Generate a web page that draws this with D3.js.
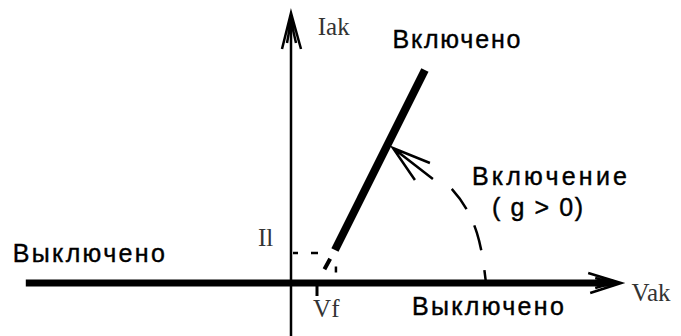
<!DOCTYPE html>
<meta charset="utf-8">
<script src="https://d3js.org/d3.v7.min.js"></script>
<div id="vis"></div>
<style>
    body { margin: 0; background: #fff; }
    .lbl { font-family: "Liberation Sans", Arial, sans-serif; fill: #000; stroke: #000; stroke-width: 0.4px; }
    .sym { font-family: "Liberation Serif", "Times New Roman", serif; fill: #333; }
</style>
<script>
    // units: Vf = 1 on x, Il = 1 on y
    var xAxisEnds = [-10.2, 12.7],
        yAxisEnds = [-1.8, 9.0];
    var vf = 1, il = 1;
    // on-state line (Vak, Iak)
    var onLine = [[1.69, 1.1], [5.15, 7.1]];
    var onDash = [[1.69, 1.1], [1.0, 0]];
    // turn-on path
    var turnOn = [[7.5, 0], [7.15, 1.67], [6.19, 3.13], [4.69, 4.2], [3.92, 4.5]];
    var labels = [
        { t: "Включено", x: 3.9, y: 7.85, len: 128 },
        { t: "Включение", x: 6.96, y: 3.27, len: 155 },
        { t: "( g > 0)", x: 7.73, y: 2.23, len: 91 },
        { t: "Выключено", x: -10.7, y: 0.7, len: 152 },
        { t: "Выключено", x: 4.65, y: -1.07, len: 152 }
    ];
    var symbols = [
        { t: "Iak", x: 1.03, y: 8.27 },
        { t: "Vak", x: 13.1, y: -0.6 },
        { t: "Vf", x: 0.85, y: -1.13 },
        { t: "Il", x: -1.27, y: 1.23 }
    ];

    var W = 681, H = 336;
    var x = d3.scaleLinear().domain([0, 1]).range([291, 317]);
    var y = d3.scaleLinear().domain([0, 1]).range([283, 253]);

    var svg = d3.select("#vis").append("svg")
        .attr("width", W).attr("height", H);

    var line = d3.line().x(function (d) { return x(d[0]); }).y(function (d) { return y(d[1]); });

    // vertical axis
    svg.append("line")
        .attr("x1", x(0)).attr("x2", x(0))
        .attr("y1", y(yAxisEnds[0])).attr("y2", y(yAxisEnds[1]) + 2)
        .attr("stroke", "#000").attr("stroke-width", 2.5);
    var tx = x(0), ty = y(yAxisEnds[1]);
    svg.append("path")
        .attr("d", "M" + (tx - 9) + "," + (ty + 36) + "L" + tx + "," + ty + "L" + (tx + 10) + "," + (ty + 36)
            + "M" + (tx - 4) + "," + (ty + 30) + "L" + tx + "," + (ty + 8) + "L" + (tx + 5) + "," + (ty + 30))
        .attr("fill", "none").attr("stroke", "#000").attr("stroke-width", 2.5);

    // horizontal axis
    svg.append("line")
        .attr("x1", x(xAxisEnds[0])).attr("x2", x(xAxisEnds[1]) - 8)
        .attr("y1", y(0)).attr("y2", y(0))
        .attr("stroke", "#000").attr("stroke-width", 7);
    var hx = x(xAxisEnds[1]), hy = y(0);
    svg.append("path")
        .attr("d", "M" + (hx - 33) + "," + (hy - 10) + "L" + hx + "," + hy + "L" + (hx - 31) + "," + (hy + 10)
            + "M" + (hx - 26) + "," + (hy - 5) + "L" + (hx - 8) + "," + hy + "L" + (hx - 26) + "," + (hy + 5))
        .attr("fill", "none").attr("stroke", "#000").attr("stroke-width", 2.5);

    // Vf tick
    svg.append("line")
        .attr("x1", x(vf)).attr("x2", x(vf))
        .attr("y1", y(0)).attr("y2", y(0) + 13)
        .attr("stroke", "#000").attr("stroke-width", 3);

    // Il dashed guide
    svg.append("line")
        .attr("x1", x(0) + 2).attr("x2", x(onLine[0][0]) - 4)
        .attr("y1", y(il)).attr("y2", y(il))
        .attr("stroke", "#000").attr("stroke-width", 2.5)
        .attr("stroke-dasharray", "5 13 7 20");

    // dashed extension to Vf
    svg.append("path")
        .attr("d", line(onDash))
        .attr("fill", "none").attr("stroke", "#000").attr("stroke-width", 4)
        .attr("stroke-dasharray", "0 10 12 20");
    svg.append("line")
        .attr("x1", x(onLine[0][0]) + 1).attr("x2", x(onLine[0][0]) + 1)
        .attr("y1", y(0.55)).attr("y2", y(0.35))
        .attr("stroke", "#000").attr("stroke-width", 2.5);

    // on-state line
    svg.append("path")
        .attr("d", line(onLine))
        .attr("fill", "none").attr("stroke", "#000").attr("stroke-width", 8);

    // turn-on trajectory
    svg.append("path")
        .attr("d", line.curve(d3.curveNatural)(turnOn))
        .attr("fill", "none").attr("stroke", "#000").attr("stroke-width", 2.5)
        .attr("stroke-dasharray", "13 20 26 18 25 100");
    line.curve(d3.curveLinear);
    var ax = x(turnOn[4][0]), ay = y(turnOn[4][1]);
    svg.append("path")
        .attr("d", "M" + (ax + 37) + "," + (ay + 15) + "L" + ax + "," + ay + "L" + (ax + 22) + "," + (ay + 32)
            + "M" + ax + "," + ay + "L" + (ax + 40) + "," + (ay + 31))
        .attr("fill", "none").attr("stroke", "#000").attr("stroke-width", 2.5);

    // texts
    svg.selectAll(".lbl").data(labels).enter().append("text")
        .attr("class", "lbl")
        .attr("x", function (d) { return x(d.x); })
        .attr("y", function (d) { return y(d.y); })
        .attr("textLength", function (d) { return d.len; })
        .attr("lengthAdjust", "spacing")
        .style("font-size", "25px")
        .text(function (d) { return d.t; });

    svg.selectAll(".sym").data(symbols).enter().append("text")
        .attr("class", "sym")
        .attr("x", function (d) { return x(d.x); })
        .attr("y", function (d) { return y(d.y); })
        .style("font-size", "25px")
        .text(function (d) { return d.t; });
</script>
